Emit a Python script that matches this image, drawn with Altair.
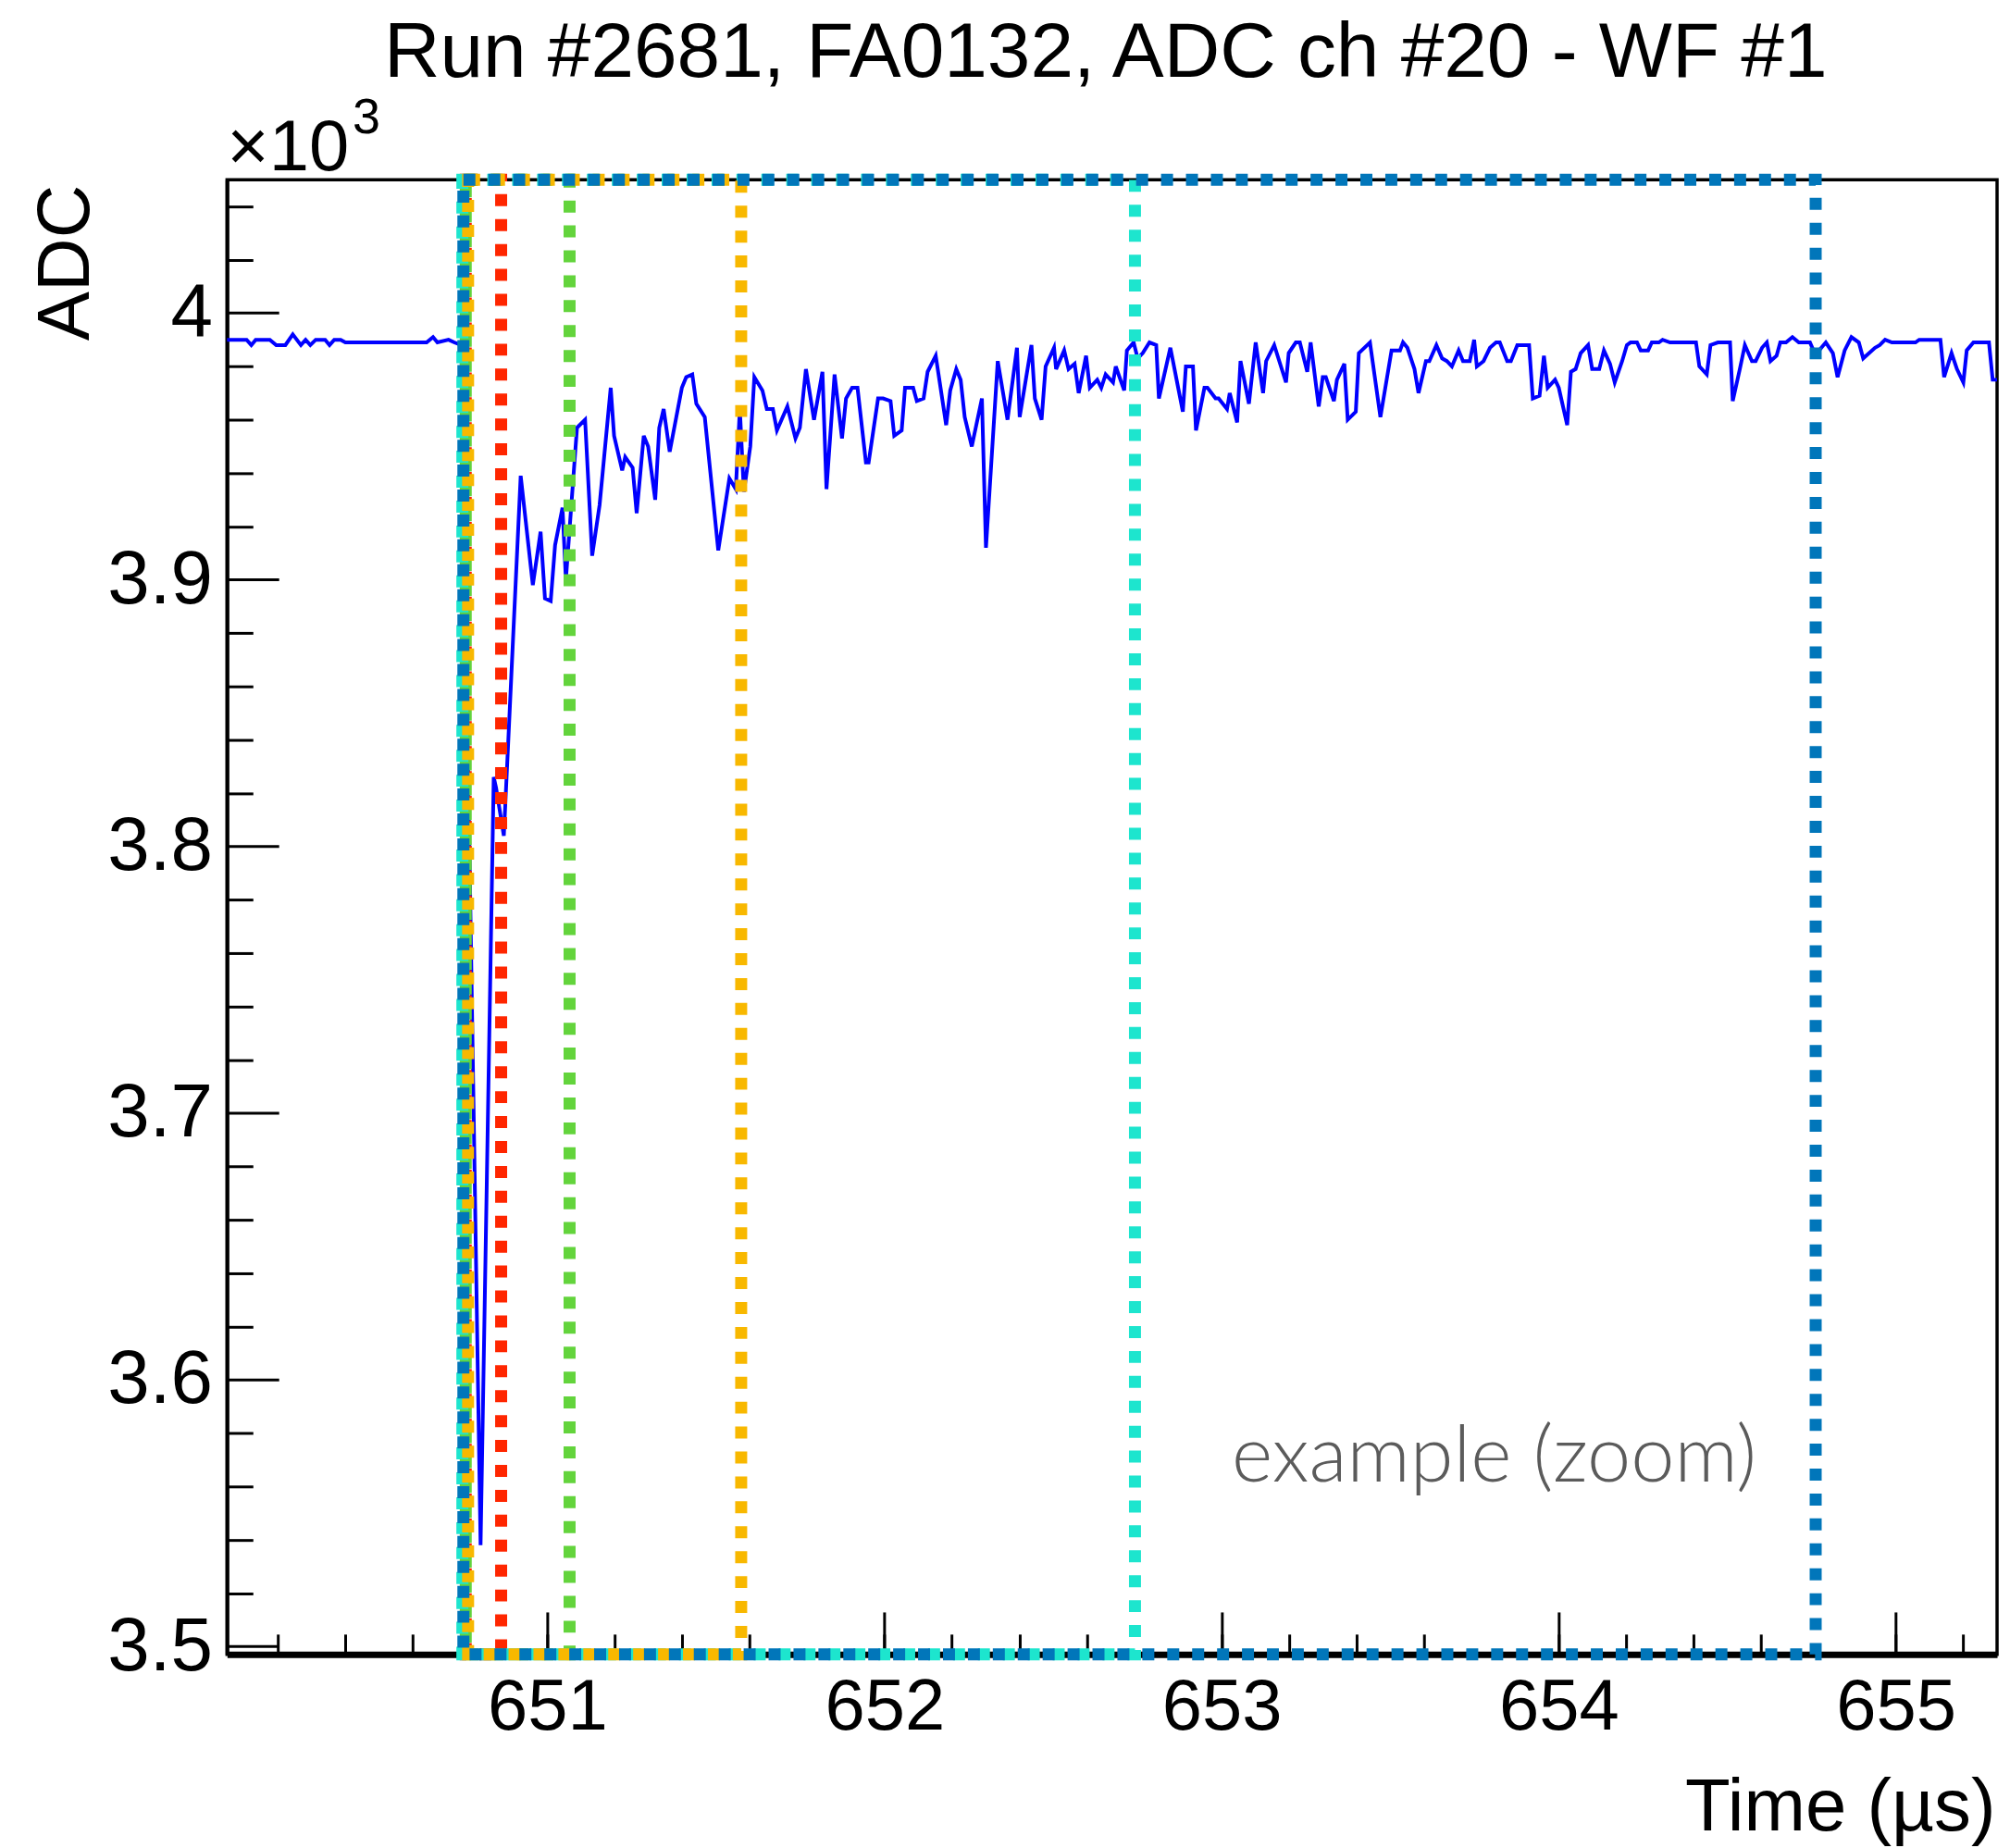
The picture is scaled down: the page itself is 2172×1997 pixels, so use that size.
import altair as alt
import pandas as pd

TITLE = "Run #2681, FA0132, ADC ch #20 - WF #1"
X_TITLE = "Time (µs)"
Y_TITLE = "ADC"
NOTE_TEXT = "example (zoom)"
EXP_BASE = "×10"
EXP_POWER = "3"

X_DOMAIN = [650.05, 655.30]
Y_DOMAIN = [3497, 4050]

# waveform samples (time in µs, ADC counts)
time_us = [
    650.050, 650.108, 650.122, 650.135, 650.177, 650.196, 650.223, 650.245, 650.269, 650.283,
    650.297, 650.313, 650.341, 650.354, 650.368, 650.387, 650.401, 650.642, 650.661, 650.674,
    650.707, 650.724, 650.745, 650.802, 650.841, 650.848, 650.871, 650.921, 650.957, 650.980,
    650.993, 651.010, 651.023, 651.045, 651.055, 651.088, 651.112, 651.133, 651.155, 651.188,
    651.198, 651.222, 651.231, 651.253, 651.265, 651.286, 651.299, 651.320, 651.332, 651.345,
    651.363, 651.375, 651.399, 651.412, 651.430, 651.442, 651.467, 651.507, 651.540, 651.559,
    651.571, 651.583, 651.602, 651.614, 651.638, 651.651, 651.669, 651.681, 651.712, 651.736,
    651.749, 651.767, 651.791, 651.816, 651.828, 651.852, 651.874, 651.886, 651.904, 651.920,
    651.945, 651.953, 651.981, 651.996, 652.018, 652.029, 652.051, 652.061, 652.085, 652.096,
    652.116, 652.128, 652.152, 652.183, 652.195, 652.213, 652.226, 652.238, 652.259, 652.289,
    652.301, 652.336, 652.365, 652.393, 652.401, 652.436, 652.446, 652.466, 652.478, 652.503,
    652.509, 652.533, 652.546, 652.564, 652.576, 652.598, 652.609, 652.631, 652.643, 652.656,
    652.678, 652.686, 652.711, 652.719, 652.739, 652.751, 652.766, 652.786, 652.806, 652.814,
    652.848, 652.885, 652.894, 652.915, 652.924, 652.949, 652.958, 652.982, 652.991, 653.016,
    653.024, 653.046, 653.056, 653.081, 653.101, 653.123, 653.132, 653.156, 653.191, 653.199,
    653.220, 653.232, 653.254, 653.264, 653.288, 653.300, 653.309, 653.333, 653.342, 653.364,
    653.374, 653.398, 653.407, 653.440, 653.471, 653.504, 653.529, 653.538, 653.551, 653.572,
    653.584, 653.606, 653.616, 653.637, 653.654, 653.668, 653.683, 653.703, 653.716, 653.736,
    653.749, 653.757, 653.777, 653.796, 653.814, 653.825, 653.847, 653.858, 653.877, 653.912,
    653.923, 653.943, 653.956, 653.967, 653.989, 654.000, 654.025, 654.036, 654.050, 654.065,
    654.087, 654.099, 654.120, 654.134, 654.152, 654.166, 654.188, 654.202, 654.213, 654.232,
    654.243, 654.265, 654.276, 654.297, 654.308, 654.330, 654.407, 654.417, 654.439, 654.450,
    654.472, 654.508, 654.516, 654.537, 654.552, 654.573, 654.584, 654.603, 654.617, 654.628,
    654.646, 654.657, 654.674, 654.693, 654.712, 654.745, 654.759, 654.772, 654.792, 654.813,
    654.827, 654.848, 654.868, 654.890, 654.903, 654.938, 654.952, 654.968, 654.988, 655.058,
    655.069, 655.132, 655.143, 655.165, 655.181, 655.200, 655.210, 655.230, 655.276, 655.287,
    655.300,
]
adc = [
    3990, 3990, 3988, 3990, 3990, 3988, 3988, 3992, 3988, 3990,
    3988, 3990, 3990, 3988, 3990, 3990, 3989, 3989, 3991, 3989,
    3990, 3989, 3988, 3538, 3826, 3822, 3804, 3939, 3898, 3918,
    3893, 3892, 3913, 3927, 3900, 3957, 3960, 3909, 3928, 3972,
    3954, 3941, 3946, 3942, 3925, 3954, 3950, 3930, 3957, 3964,
    3948, 3956, 3972, 3976, 3977, 3966, 3961, 3911, 3938, 3934,
    3964, 3933, 3950, 3976, 3971, 3964, 3964, 3956, 3965, 3953,
    3957, 3979, 3960, 3978, 3934, 3977, 3953, 3968, 3972, 3972,
    3944, 3944, 3968, 3968, 3967, 3954, 3956, 3972, 3972, 3967,
    3968, 3978, 3984, 3958, 3971, 3979, 3975, 3961, 3950, 3968,
    3912, 3982, 3960, 3987, 3961, 3988, 3968, 3960, 3980, 3987,
    3979, 3986, 3979, 3981, 3970, 3984, 3972, 3975, 3972, 3977,
    3974, 3980, 3971, 3986, 3989, 3983, 3985, 3989, 3988, 3968,
    3987, 3963, 3980, 3980, 3956, 3972, 3972, 3968, 3968, 3964,
    3970, 3959, 3982, 3966, 3989, 3970, 3982, 3988, 3974, 3985,
    3989, 3989, 3978, 3989, 3965, 3976, 3976, 3967, 3975, 3981,
    3960, 3963, 3985, 3989, 3961, 3986, 3986, 3989, 3987, 3979,
    3970, 3982, 3982, 3988, 3983, 3982, 3980, 3986, 3982, 3982,
    3990, 3980, 3982, 3987, 3989, 3989, 3982, 3982, 3988, 3988,
    3968, 3969, 3984, 3972, 3975, 3972, 3958, 3978, 3979, 3985,
    3988, 3979, 3979, 3986, 3981, 3974, 3982, 3988, 3989, 3989,
    3986, 3986, 3989, 3989, 3990, 3989, 3989, 3980, 3977, 3988,
    3989, 3989, 3967, 3979, 3988, 3982, 3982, 3987, 3989, 3982,
    3984, 3989, 3989, 3991, 3989, 3989, 3985, 3986, 3989, 3985,
    3976, 3986, 3991, 3989, 3983, 3987, 3988, 3990, 3989, 3989,
    3990, 3990, 3976, 3985, 3979, 3974, 3986, 3989, 3989, 3975,
    3975,
]

# integration windows (dotted boxes), drawn in this order
box_names = ["red", "green", "cyan", "orange", "blue"]
box_start = [650.758, 650.758, 650.748, 650.765, 650.751]
box_end = [650.863, 651.066, 652.743, 651.575, 654.762]
box_colors = ["#FF2600", "#63D43C", "#1DE5CE", "#F8B800", "#0176BA"]

x_major = [651, 652, 653, 654, 655]
x_minor = [round(650.2 + 0.2 * i, 1) for i in range(26) if (i + 1) % 5 != 4]
y_major = [3500, 3600, 3700, 3800, 3900, 4000]
y_minor = [3500 + 20 * i for i in range(28) if i % 5 != 0]

W, H = 1918, 1598
FONT = "Liberation Sans"

xs = alt.Scale(domain=X_DOMAIN, nice=False, zero=False)
ys = alt.Scale(domain=Y_DOMAIN, nice=False, zero=False)


def tick_axis(orient, values, size):
    return alt.Axis(orient=orient, values=values, tickSize=size, offset=-size,
                    labels=False, domain=False, grid=False, title=None,
                    ticks=True, tickColor="black", tickWidth=3)


wave = pd.DataFrame({"t": time_us, "adc": adc})
boxes = pd.DataFrame({"name": box_names, "start": box_start, "end": box_end,
                      "color": box_colors})

line = alt.Chart(wave).mark_line(color="#0000FF", strokeWidth=4).encode(
    x=alt.X("t:Q", scale=xs, axis=alt.Axis(
        orient="bottom", values=x_major, format="d", ticks=False, grid=False,
        domain=True, domainColor="black", domainWidth=7,
        labelFontSize=78, labelPadding=19, labelFlush=False,
        title=X_TITLE, titleFontSize=80, titleFontWeight="normal",
        titleAlign="right", titleX=W - 2, titleY=190,
        titleBaseline="alphabetic")),
    y=alt.Y("adc:Q", scale=ys, axis=alt.Axis(
        orient="left", values=y_major,
        labelExpr="format(datum.value / 1000, '~g')",
        ticks=False, grid=False, domain=True, domainColor="black",
        domainWidth=4,
        labelFontSize=82, labelPadding=16, labelFlush=False,
        title=Y_TITLE, titleFontSize=80, titleFontWeight="normal",
        titleAngle=270, titleAlign="right",
        titleX=-174, titleY=5, titleBaseline="middle")),
)

rect = alt.Chart(boxes).mark_rect(filled=False, strokeWidth=13, strokeDash=[13, 14]).encode(
    x=alt.X("start:Q", scale=xs, axis=tick_axis("bottom", x_major, 46)),
    x2="end:Q",
    y=alt.YDatum(Y_DOMAIN[1], scale=ys, axis=tick_axis("left", y_major, 56)),
    y2=alt.Y2Datum(Y_DOMAIN[0]),
    stroke=alt.Stroke("color:N", scale=None),
)

note = alt.Chart(pd.DataFrame({"label": [NOTE_TEXT]})).mark_text(
    align="left", baseline="alphabetic", font="Lato", fontWeight=300,
    fontSize=85, color="#5b5b5b").encode(
    x=alt.XDatum(653.03, scale=xs, axis=tick_axis("bottom", x_minor, 22)),
    y=alt.YDatum(3562, scale=ys, axis=tick_axis("left", y_minor, 28)),
    text="label:N",
)

exp_base = alt.Chart(pd.DataFrame({"label": [EXP_BASE]})).mark_text(
    align="left", baseline="alphabetic", font=FONT, fontSize=78, color="black",
    dy=-10).encode(
    x=alt.XDatum(X_DOMAIN[0], scale=xs, axis=None),
    y=alt.YDatum(Y_DOMAIN[1], scale=ys, axis=None),
    text="label:N",
)

exp_power = alt.Chart(pd.DataFrame({"label": [EXP_POWER]})).mark_text(
    align="left", baseline="alphabetic", font=FONT, fontSize=54, color="black",
    dx=136, dy=-50).encode(
    x=alt.XDatum(X_DOMAIN[0], scale=xs, axis=None),
    y=alt.YDatum(Y_DOMAIN[1], scale=ys, axis=None),
    text="label:N",
)

chart = alt.layer(line, rect, note, exp_base, exp_power).resolve_axis(
    x="independent", y="independent"
).properties(
    width=W, height=H,
    title=alt.Title(TITLE, fontSize=84, font=FONT, fontWeight="normal",
                    color="black", anchor="middle", offset=1, dx=-7),
    autosize=alt.AutoSizeParams(type="none"),
    padding={"left": 238, "top": 184, "right": 6, "bottom": 207},
    background="white",
).configure_view(
    stroke="black", strokeWidth=3.5
).configure_axis(
    labelFont=FONT, titleFont=FONT, labelColor="black", titleColor="black",
    titleFontWeight="normal", tickColor="black", domainColor="black"
)

chart.save("out.html", embed_options={"renderer": "svg", "actions": False})
